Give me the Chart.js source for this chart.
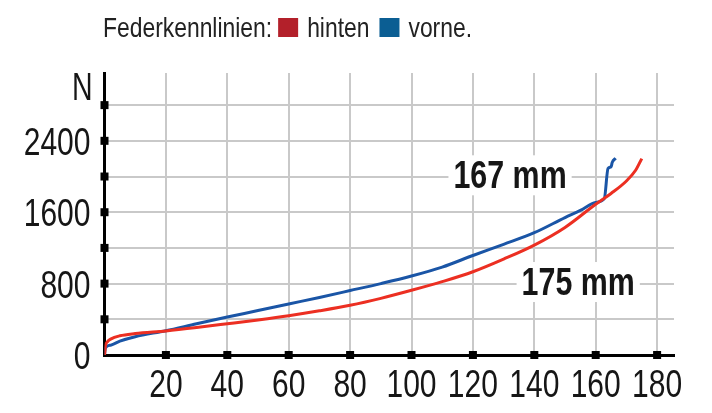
<!DOCTYPE html>
<html>
<head>
<meta charset="utf-8">
<script src="https://cdn.jsdelivr.net/npm/chart.js@4.4.1/dist/chart.umd.min.js"></script>
<style>
  html, body { margin:0; padding:0; background:#fff; }
</style>
</head>
<body>
<canvas id="chart" width="712" height="413"></canvas>
<script>
// spring curves, travel in mm vs force in N
const hintenX = [0, 0.3, 1, 2, 5, 10, 20, 30, 40, 50, 60, 70, 80, 90, 100, 110, 120, 130, 140, 150, 160, 165, 170, 173, 175];
const hintenY = [0, 100, 150, 178, 215, 240, 270, 308, 350, 393, 440, 495, 557, 635, 725, 822, 933, 1075, 1232, 1430, 1690, 1810, 1950, 2070, 2200];

const vorneX = [0, 0.3, 2, 5, 10, 20, 30, 40, 50, 60, 70, 80, 90, 100, 110, 120, 130, 140, 150, 155, 160, 162.8, 164, 165, 165.4, 166.5];
const vorneY = [0, 80, 110, 155, 205, 272, 350, 425, 498, 572, 645, 722, 800, 885, 985, 1115, 1240, 1370, 1540, 1620, 1710, 1752, 2090, 2110, 2160, 2205];

const xTicks = [0, 20, 40, 60, 80, 100, 120, 140, 160, 180];
const yTicks = [0, 400, 800, 1200, 1600, 2000, 2400, 2800];
const yLabelled = [0, 800, 1600, 2400];

const legendTitle = 'Federkennlinien:';
const seriesNames = ['hinten', 'vorne.'];
const legendColors = ['#b3202a', '#0b5e93'];

const notes = [
  { text: '167 mm', x: 132.1, y: 1868 },
  { text: '175 mm', x: 154.3, y: 672 }
];

const FONT = '"Liberation Sans", Arial, sans-serif';
const INK = '#161616';

function pairs(xs, ys){ return xs.map((x,i)=>({x:x, y:ys[i]})); }

// condensed text: the reference uses a narrow face, so squeeze a regular one
function narrowText(c, txt, x, y, sx, align){
  const w = c.measureText(txt).width * sx;
  let left = x;
  if(align === 'center') left = x - w/2;
  else if(align === 'right') left = x - w;
  c.save();
  c.translate(left, y);
  c.scale(sx, 1);
  c.textAlign = 'left';
  c.fillText(txt, 0, 0);
  c.restore();
  return w;
}

const extras = {
  id: 'extras',
  afterDraw(chart){
    const c = chart.ctx, xs = chart.scales.x, ys = chart.scales.y, a = chart.chartArea;
    c.save();
    // black squares on the axes
    c.fillStyle = '#000';
    xTicks.forEach(v => { if(v>0){ const p = xs.getPixelForValue(v); c.fillRect(p-4, a.bottom-4, 8, 8); } });
    yTicks.forEach(v => { if(v>0){ const p = ys.getPixelForValue(v); c.fillRect(a.left-4, p-4, 8, 8); } });

    // tick labels
    c.fillStyle = INK;
    c.textBaseline = 'alphabetic';
    c.font = '39px ' + FONT;
    xTicks.forEach(v => { if(v>0) narrowText(c, String(v), xs.getPixelForValue(v), a.bottom + 42, 0.77, 'center'); });
    yLabelled.forEach(v => narrowText(c, String(v), a.left - 14, ys.getPixelForValue(v) + 14, 0.77, 'right'));
    c.font = '38px ' + FONT;
    narrowText(c, 'N', a.left - 12, a.top + 27, 0.75, 'right');

    // curve notes on white boxes
    c.font = 'bold 38px ' + FONT;
    notes.forEach(n => {
      const px = xs.getPixelForValue(n.x), py = ys.getPixelForValue(n.y);
      const w = c.measureText(n.text).width * 0.8;
      c.fillStyle = '#fff';
      c.fillRect(px - w/2 - 5, py - 33, w + 10, 40);
      c.fillStyle = INK;
      narrowText(c, n.text, px, py, 0.8, 'center');
    });

    // legend line
    c.font = '28px ' + FONT;
    c.fillStyle = '#222';
    let x = 103;
    x += narrowText(c, legendTitle, x, 37, 0.817, 'left') + 6;
    seriesNames.forEach((name, i) => {
      c.fillStyle = legendColors[i];
      c.fillRect(x, 18, 20, 19);
      x += 29;
      c.fillStyle = '#222';
      x += narrowText(c, name, x, 37, 0.817, 'left') + 10;
    });
    c.restore();
  }
};

new Chart(document.getElementById('chart'), {
  type: 'line',
  data: {
    datasets: [
      { label: 'hinten', data: pairs(hintenX, hintenY), borderColor: '#ec2f22', borderWidth: 3, pointRadius: 0, cubicInterpolationMode: 'monotone' },
      { label: 'vorne', data: pairs(vorneX, vorneY), borderColor: '#1a55a6', borderWidth: 3, pointRadius: 0, cubicInterpolationMode: 'monotone' }
    ]
  },
  options: {
    responsive: false,
    animation: false,
    layout: { padding: { left: 0, right: 38, top: 73, bottom: 0 } },
    plugins: { legend: { display: false }, tooltip: { enabled: false } },
    scales: {
      x: {
        type: 'linear', min: 0, max: 185.5,
        afterBuildTicks: s => { s.ticks = xTicks.map(v => ({value: v})); },
        afterFit: s => { s.height = 58; },
        grid: { color: '#c9c9c9', lineWidth: 2, drawTicks: false },
        border: { color: '#000', width: 3 },
        ticks: { display: false }
      },
      y: {
        min: 0, max: 3160,
        afterBuildTicks: s => { s.ticks = yTicks.map(v => ({value: v})); },
        afterFit: s => { s.width = 104.5; },
        grid: { color: '#c9c9c9', lineWidth: 2, drawTicks: false },
        border: { color: '#000', width: 3 },
        ticks: { display: false }
      }
    }
  },
  plugins: [extras]
});
</script>
</body>
</html>
